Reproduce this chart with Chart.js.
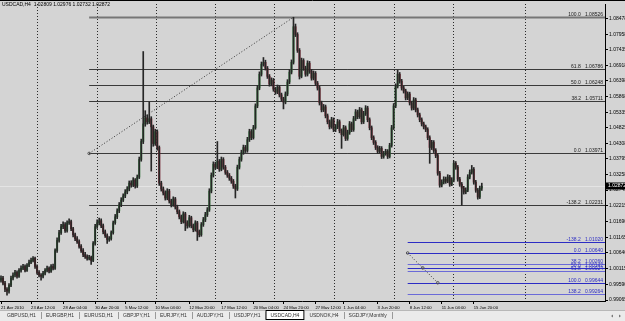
<!DOCTYPE html>
<html>
<head>
<meta charset="utf-8">
<script src="https://cdn.jsdelivr.net/npm/chart.js@4.4.0/dist/chart.umd.min.js"></script>
<style>
  html, body { margin: 0; padding: 0; background: #d4d4d4; }
  canvas { display: block; }
</style>
</head>
<body>
<canvas id="grafico" width="625" height="321"></canvas>
<script>
const simbolo = "USDCAD,H4";

// H4 candles, 21 Apr -> 16 Jun 2010
const opens = [
  0.9973,0.9980,0.9963,0.9943,0.9936,0.9956,0.9980,0.9990,0.9999,0.9986,
  1.0006,1.0013,1.0019,1.0006,1.0023,1.0033,1.0039,1.0046,1.0019,0.9999,
  0.9990,0.9986,0.9996,1.0006,1.0013,1.0003,1.0019,1.0013,1.0072,1.0106,
  1.0132,1.0152,1.0159,1.0139,1.0165,1.0169,1.0145,1.0125,1.0112,1.0102,
  1.0086,1.0072,1.0059,1.0052,1.0046,1.0049,1.0039,1.0096,1.0152,1.0165,
  1.0172,1.0155,1.0135,1.0122,1.0109,1.0112,1.0132,1.0165,1.0185,1.0205,
  1.0225,1.0241,1.0255,1.0268,1.0278,1.0298,1.0291,1.0308,1.0288,1.0318,
  1.0377,1.0437,1.0496,1.0516,1.0503,1.0513,1.0486,1.0430,1.0470,1.0417,
  1.0298,1.0278,1.0265,1.0248,1.0271,1.0238,1.0225,1.0245,1.0218,1.0202,
  1.0185,1.0169,1.0195,1.0165,1.0155,1.0182,1.0155,1.0142,1.0165,1.0135,
  1.0125,1.0159,1.0175,1.0192,1.0208,1.0271,1.0324,1.0361,1.0351,1.0371,
  1.0344,1.0377,1.0351,1.0334,1.0324,1.0314,1.0304,1.0288,1.0278,1.0351,
  1.0377,1.0400,1.0417,1.0407,1.0443,1.0470,1.0450,1.0483,1.0556,1.0616,
  1.0662,1.0695,1.0702,1.0682,1.0655,1.0629,1.0642,1.0612,1.0602,1.0619,
  1.0593,1.0579,1.0569,1.0596,1.0636,1.0669,1.0702,1.0821,1.0795,1.0742,
  1.0655,1.0708,1.0682,1.0662,1.0699,1.0672,1.0649,1.0665,1.0632,1.0616,
  1.0566,1.0543,1.0553,1.0523,1.0503,1.0486,1.0510,1.0477,1.0486,1.0503,
  1.0473,1.0460,1.0483,1.0447,1.0467,1.0496,1.0477,1.0513,1.0536,1.0520,
  1.0543,1.0503,1.0530,1.0549,1.0510,1.0483,1.0450,1.0434,1.0417,1.0404,
  1.0414,1.0387,1.0397,1.0404,1.0387,1.0424,1.0483,1.0556,1.0622,1.0662,
  1.0639,1.0616,1.0606,1.0583,1.0596,1.0566,1.0549,1.0576,1.0543,1.0526,
  1.0510,1.0496,1.0486,1.0477,1.0450,1.0417,1.0434,1.0407,1.0390,1.0331,
  1.0291,1.0301,1.0311,1.0304,1.0318,1.0294,1.0308,1.0364,1.0351,1.0311,
  1.0294,1.0281,1.0268,1.0274,1.0318,1.0334,1.0344,1.0301,1.0274,1.0251,
  1.02809
];
const highs = [
  0.9988,0.9986,0.9969,0.9948,0.9962,0.9987,0.9998,1.0006,1.0004,1.0012,
  1.0021,1.0026,1.0024,1.0029,1.0040,1.0047,1.0052,1.0050,1.0024,1.0005,
  0.9995,1.0003,1.0012,1.0020,1.0018,1.0025,1.0027,1.0078,1.0115,1.0140,
  1.0160,1.0168,1.0166,1.0172,1.0178,1.0174,1.0150,1.0131,1.0119,1.0108,
  1.0092,1.0079,1.0066,1.0058,1.0056,1.0054,1.0102,1.0160,1.0175,1.0181,
  1.0178,1.0161,1.0141,1.0128,1.0119,1.0138,1.0171,1.0193,1.0212,1.0233,
  1.0249,1.0262,1.0276,1.0286,1.0305,1.0306,1.0316,1.0313,1.0325,1.0385,
  1.0445,1.0738,1.0540,1.0526,1.0569,1.0520,1.0492,1.0478,1.0476,1.0422,
  1.0304,1.0285,1.0272,1.0279,1.0277,1.0244,1.0252,1.0250,1.0224,1.0208,
  1.0191,1.0202,1.0200,1.0172,1.0190,1.0187,1.0161,1.0172,1.0170,1.0141,
  1.0166,1.0183,1.0200,1.0216,1.0279,1.0332,1.0369,1.0368,1.0437,1.0377,
  1.0385,1.0383,1.0357,1.0340,1.0330,1.0320,1.0310,1.0294,1.0358,1.0385,
  1.0408,1.0425,1.0424,1.0451,1.0478,1.0477,1.0491,1.0563,1.0624,1.0670,
  1.0703,1.0718,1.0709,1.0688,1.0661,1.0650,1.0648,1.0618,1.0626,1.0624,
  1.0599,1.0585,1.0603,1.0644,1.0677,1.0710,1.08526,1.0830,1.0801,1.0748,
  1.0716,1.0714,1.0689,1.0707,1.0705,1.0678,1.0673,1.0671,1.0638,1.0622,
  1.0572,1.0561,1.0559,1.0529,1.0509,1.0518,1.0516,1.0494,1.0511,1.0509,
  1.0479,1.0491,1.0489,1.0475,1.0504,1.0502,1.0521,1.0544,1.0542,1.0551,
  1.0549,1.0538,1.0557,1.0555,1.0516,1.0489,1.0456,1.0440,1.0423,1.0421,
  1.0420,1.0404,1.0411,1.0410,1.0431,1.0491,1.0564,1.0630,1.0676,1.0668,
  1.0645,1.0622,1.0612,1.0603,1.0602,1.0572,1.0584,1.0582,1.0549,1.0532,
  1.0516,1.0502,1.0492,1.0483,1.0456,1.0441,1.0440,1.0413,1.0396,1.0337,
  1.0309,1.0319,1.0318,1.0326,1.0324,1.0316,1.0372,1.0370,1.0357,1.0317,
  1.0300,1.0287,1.0282,1.0326,1.0342,1.0357,1.0350,1.0307,1.0280,1.0288,
  1.02976
];
const lows = [
  0.9966,0.9957,0.9935,0.9923,0.9930,0.9951,0.9974,0.9984,0.9980,0.9982,
  1.0000,1.0008,1.0001,1.0002,1.0018,1.0028,1.0034,1.0012,0.9993,0.9984,
  0.9973,0.9981,0.9991,1.0001,0.9997,0.9999,1.0007,1.0009,1.0066,1.0100,
  1.0126,1.0145,1.0133,1.0134,1.0160,1.0139,1.0118,1.0105,1.0096,1.0080,
  1.0066,1.0052,1.0046,1.0040,1.0041,1.0026,1.0035,1.0090,1.0146,1.0158,
  1.0149,1.0128,1.0116,1.0096,1.0103,1.0107,1.0127,1.0160,1.0179,1.0199,
  1.0219,1.0236,1.0249,1.0262,1.0272,1.0284,1.0286,1.0281,1.0283,1.0313,
  1.0371,1.0430,1.0488,1.0495,1.0497,1.0338,1.0421,1.0424,1.0408,1.0290,
  1.0271,1.0258,1.0241,1.0242,1.0231,1.0218,1.0220,1.0211,1.0195,1.0178,
  1.0162,1.0164,1.0139,1.0147,1.0150,1.0148,1.0135,1.0137,1.0106,1.0118,
  1.0120,1.0153,1.0169,1.0186,1.0203,1.0265,1.0318,1.0344,1.0346,1.0337,
  1.0339,1.0344,1.0327,1.0317,1.0307,1.0297,1.0280,1.0248,1.0273,1.0345,
  1.0371,1.0394,1.0400,1.0401,1.0437,1.0443,1.0445,1.0478,1.0550,1.0610,
  1.0656,1.0689,1.0676,1.0648,1.0622,1.0623,1.0605,1.0595,1.0597,1.0586,
  1.0572,1.0546,1.0563,1.0590,1.0630,1.0663,1.0696,1.0788,1.0735,1.0646,
  1.0650,1.0675,1.0655,1.0656,1.0665,1.0642,1.0643,1.0625,1.0609,1.0559,
  1.0536,1.0537,1.0516,1.0496,1.0479,1.0481,1.0470,1.0470,1.0480,1.0466,
  1.0414,1.0455,1.0440,1.0441,1.0461,1.0470,1.0471,1.0507,1.0513,1.0514,
  1.0496,1.0497,1.0524,1.0503,1.0476,1.0443,1.0427,1.0410,1.0397,1.0398,
  1.0380,1.0381,1.0391,1.0380,1.0382,1.0418,1.0477,1.0550,1.0616,1.0632,
  1.0609,1.0599,1.0576,1.0577,1.0559,1.0542,1.0543,1.0536,1.0519,1.0503,
  1.0489,1.0479,1.0470,1.0443,1.0364,1.0410,1.0400,1.0383,1.0324,1.0284,
  1.0285,1.0295,1.0297,1.0299,1.0287,1.0289,1.0302,1.0344,1.0304,1.0287,
  1.0224,1.0261,1.0262,1.0269,1.0312,1.0328,1.0294,1.0267,1.0244,1.0246,
  1.02732
];
const closes = [
  0.9980,0.9963,0.9943,0.9936,0.9956,0.9980,0.9990,0.9999,0.9986,1.0006,
  1.0013,1.0019,1.0006,1.0023,1.0033,1.0039,1.0046,1.0019,0.9999,0.9990,
  0.9986,0.9996,1.0006,1.0013,1.0003,1.0019,1.0013,1.0072,1.0106,1.0132,
  1.0152,1.0159,1.0139,1.0165,1.0169,1.0145,1.0125,1.0112,1.0102,1.0086,
  1.0072,1.0059,1.0052,1.0046,1.0049,1.0039,1.0096,1.0152,1.0165,1.0172,
  1.0155,1.0135,1.0122,1.0109,1.0112,1.0132,1.0165,1.0185,1.0205,1.0225,
  1.0241,1.0255,1.0268,1.0278,1.0298,1.0291,1.0308,1.0288,1.0318,1.0377,
  1.0437,1.0496,1.0516,1.0503,1.0513,1.0486,1.0430,1.0470,1.0417,1.0298,
  1.0278,1.0265,1.0248,1.0271,1.0238,1.0225,1.0245,1.0218,1.0202,1.0185,
  1.0169,1.0195,1.0165,1.0155,1.0182,1.0155,1.0142,1.0165,1.0135,1.0125,
  1.0159,1.0175,1.0192,1.0208,1.0271,1.0324,1.0361,1.0351,1.0371,1.0344,
  1.0377,1.0351,1.0334,1.0324,1.0314,1.0304,1.0288,1.0278,1.0351,1.0377,
  1.0400,1.0417,1.0407,1.0443,1.0470,1.0450,1.0483,1.0556,1.0616,1.0662,
  1.0695,1.0702,1.0682,1.0655,1.0629,1.0642,1.0612,1.0602,1.0619,1.0593,
  1.0579,1.0569,1.0596,1.0636,1.0669,1.0702,1.0821,1.0795,1.0742,1.0655,
  1.0708,1.0682,1.0662,1.0699,1.0672,1.0649,1.0665,1.0632,1.0616,1.0566,
  1.0543,1.0553,1.0523,1.0503,1.0486,1.0510,1.0477,1.0486,1.0503,1.0473,
  1.0460,1.0483,1.0447,1.0467,1.0496,1.0477,1.0513,1.0536,1.0520,1.0543,
  1.0503,1.0530,1.0549,1.0510,1.0483,1.0450,1.0434,1.0417,1.0404,1.0414,
  1.0387,1.0397,1.0404,1.0387,1.0424,1.0483,1.0556,1.0622,1.0662,1.0639,
  1.0616,1.0606,1.0583,1.0596,1.0566,1.0549,1.0576,1.0543,1.0526,1.0510,
  1.0496,1.0486,1.0477,1.0450,1.0417,1.0434,1.0407,1.0390,1.0331,1.0291,
  1.0301,1.0311,1.0304,1.0318,1.0294,1.0308,1.0364,1.0351,1.0311,1.0294,
  1.0281,1.0268,1.0274,1.0318,1.0334,1.0344,1.0301,1.0274,1.0251,1.02809,
  1.02872
];

// empty bars kept on the right (chart shift)
const totalSlots = 302;

const dateLabels = ["21 Apr 2010", "23 Apr 12:00", "28 Apr 04:00", "30 Apr 20:00", "5 May 12:00",
  "10 May 04:00", "12 May 20:00", "17 May 12:00", "20 May 04:00", "24 May 20:00", "27 May 12:00",
  "1 Jun 04:00", "3 Jun 20:00", "8 Jun 12:00", "11 Jun 04:00", "15 Jun 20:00"];
const dateLabelBars = [0, 15, 31, 47, 62, 77, 94, 110, 126, 141, 157, 171, 188, 204, 220, 236];

const yTickValues = [1.08478, 1.07958, 1.07435, 1.06918, 1.06398, 1.05868, 1.05335, 1.04825,
  1.04308, 1.03795, 1.03258, 1.02745, 1.02215, 1.01690, 1.01165, 1.00640, 1.00115, 0.99590, 0.99065];

// fibo 1 (black) and fibo 2 (blue)
const fibLevels = [100, 61.8, 50, 38.2, 0, -38.2];
const fibNames = ["100.0", "61.8", "50.0", "38.2", "0.0", "-138.2"];
const fibBars = [44, 146];
const fibPrices = [1.03971, 1.08526];
const fib2Levels = [-38.2, 0, 38.2, 50, 61.8, 100, 138.2];
const fib2Names = ["-138.2", "0.0", "38.2", "50.0", "61.8", "100.0", "138.2"];
const fib2Bars = [203, 218];
const fib2Prices = [1.00640, 0.99644];

const tabNames = ["GBPUSD,H1", "EURGBP,H1", "EURUSD,H1", "GBPJPY,H1", "EURJPY,H1", "AUDJPY,H1",
  "USDJPY,H1", "USDCAD,H4", "USDNOK,H4", "SGDJPY,Monthly"];

const FONT = "Liberation Sans, Arial, sans-serif";
const BG = "#d4d4d4";

const ultimo = closes.length - 1;
const labelAt = (i) => {
  const k = dateLabelBars.indexOf(i);
  return k >= 0 ? dateLabels[k] : "";
};

const ctx = document.getElementById("grafico");

const decor = {
  id: "decor",
  beforeDraw(chart) {
    const c = chart.ctx;
    c.save();
    c.fillStyle = BG;
    c.fillRect(0, 0, chart.width, chart.height);
    c.restore();
  },
  beforeDatasetsDraw(chart) {
    const c = chart.ctx;
    const a = chart.chartArea;
    const xs = chart.scales.x;
    const ys = chart.scales.y;
    c.save();
    // weekly grid
    c.strokeStyle = "#2a2a2a";
    c.lineWidth = 1;
    c.setLineDash([1, 2]);
    [18, 48, 77.5, 107, 136.5, 166, 196, 225.5, 261.5].forEach((b) => {
      const x = Math.round(xs.getPixelForValue(b)) + 0.5;
      c.beginPath();
      c.moveTo(x, a.top);
      c.lineTo(x, a.bottom);
      c.stroke();
    });
    c.setLineDash([]);
    // bid line
    const yb = Math.round(ys.getPixelForValue(closes[ultimo])) + 0.5;
    c.strokeStyle = "#e4e4e4";
    c.beginPath();
    c.moveTo(a.left, yb);
    c.lineTo(a.right, yb);
    c.stroke();
    // fibo levels
    const x1 = xs.getPixelForValue(fibBars[0]);
    fibLevels.forEach((lv) => {
      const p = fibPrices[0] + (fibPrices[1] - fibPrices[0]) * lv / 100;
      const y = Math.round(ys.getPixelForValue(p)) + 0.5;
      c.strokeStyle = lv === 100 ? "#767676" : "#3a3a3a";
      c.lineWidth = lv === 100 ? 2 : 1;
      c.beginPath();
      c.moveTo(x1, y);
      c.lineTo(a.right, y);
      c.stroke();
    });
    const x2 = xs.getPixelForValue(fib2Bars[0]);
    fib2Levels.forEach((lv) => {
      const p = fib2Prices[0] + (fib2Prices[1] - fib2Prices[0]) * lv / 100;
      const y = Math.round(ys.getPixelForValue(p)) + 0.5;
      const soft = lv === 38.2 || lv === 61.8 || lv === 138.2;
      c.strokeStyle = soft ? "#6a6ad8" : "#2c2cc4";
      c.lineWidth = 1;
      c.beginPath();
      c.moveTo(x2, y);
      c.lineTo(a.right, y);
      c.stroke();
    });
    c.restore();
  },
  afterDatasetsDraw(chart) {
    const c = chart.ctx;
    const a = chart.chartArea;
    const xs = chart.scales.x;
    const ys = chart.scales.y;
    c.save();
    c.font = "5px " + FONT;
    c.textAlign = "right";
    c.textBaseline = "bottom";
    fibLevels.forEach((lv, i) => {
      const p = fibPrices[0] + (fibPrices[1] - fibPrices[0]) * lv / 100;
      const y = Math.round(ys.getPixelForValue(p));
      c.fillStyle = "#1a1a1a";
      c.fillText(fibNames[i] + "   " + p.toFixed(5), a.right - 2, y);
    });
    fib2Levels.forEach((lv, i) => {
      const p = fib2Prices[0] + (fib2Prices[1] - fib2Prices[0]) * lv / 100;
      const y = Math.round(ys.getPixelForValue(p));
      c.fillStyle = "#2c2cc4";
      c.fillText(fib2Names[i] + "   " + p.toFixed(5), a.right - 2, y);
    });
    // trend lines of both fibos
    c.setLineDash([1, 2]);
    c.lineWidth = 1;
    c.strokeStyle = "#333";
    const tl = (bars, prices) => {
      const ax = xs.getPixelForValue(bars[0]), ay = ys.getPixelForValue(prices[0]);
      const bx = xs.getPixelForValue(bars[1]), by = ys.getPixelForValue(prices[1]);
      c.beginPath();
      c.moveTo(ax, ay);
      c.lineTo(bx, by);
      c.stroke();
      return [ax, ay, bx, by];
    };
    const t1 = tl(fibBars, fibPrices);
    const t2 = tl(fib2Bars, fib2Prices);
    c.setLineDash([]);
    c.strokeStyle = "#555";
    [[t1[0], t1[1]], [t2[0], t2[1]], [(t2[0] + t2[2]) / 2, (t2[1] + t2[3]) / 2], [t2[2], t2[3]]].forEach(([x, y]) => {
      c.beginPath();
      c.arc(x, y, 1.3, 0, Math.PI * 2);
      c.stroke();
    });
    c.restore();
  },
  afterDraw(chart) {
    const c = chart.ctx;
    const a = chart.chartArea;
    const ys = chart.scales.y;
    c.save();
    // frame top / bottom
    c.strokeStyle = "#000";
    c.lineWidth = 1;
    c.beginPath();
    c.moveTo(0, 0.5);
    c.lineTo(chart.width, 0.5);
    c.moveTo(0, Math.round(a.bottom) + 0.5);
    c.lineTo(a.right, Math.round(a.bottom) + 0.5);
    c.stroke();
    // title
    c.font = "5px " + FONT;
    c.fillStyle = "#000";
    c.textAlign = "left";
    c.textBaseline = "middle";
    c.fillText(simbolo + "  " + opens[ultimo].toFixed(5) + " " + highs[ultimo].toFixed(5) + " " +
      lows[ultimo].toFixed(5) + " " + closes[ultimo].toFixed(5), 2, 5);
    // price box
    const yp = Math.round(ys.getPixelForValue(closes[ultimo]));
    c.fillStyle = "#000";
    c.fillRect(a.right + 1, yp - 3.5, chart.width - a.right - 1, 7);
    c.fillStyle = "#fff";
    c.fillText(closes[ultimo].toFixed(5), a.right + 3, yp);
    // tab bar
    const tb = 310;
    c.fillStyle = "#ebebeb";
    c.fillRect(0, tb, chart.width, chart.height - tb);
    c.strokeStyle = "#b8b8b8";
    c.beginPath();
    c.moveTo(0, tb + 0.5);
    c.lineTo(chart.width, tb + 0.5);
    c.stroke();
    let x = 2;
    tabNames.forEach((n) => {
      const w = c.measureText(n).width + 10;
      if (n === simbolo) {
        c.fillStyle = "#fff";
        c.fillRect(x, tb, w, chart.height - tb - 1);
        c.strokeStyle = "#000";
        c.strokeRect(x + 0.5, tb + 0.5, w - 1, chart.height - tb - 2);
      } else {
        c.strokeStyle = "#9a9a9a";
        c.beginPath();
        c.moveTo(Math.round(x + w) + 0.5, tb + 2);
        c.lineTo(Math.round(x + w) + 0.5, chart.height - 2);
        c.stroke();
      }
      c.fillStyle = "#333";
      c.fillText(n, x + 5, tb + 6);
      x += w;
    });
    // scroll arrows
    c.fillStyle = "#777";
    c.beginPath();
    c.moveTo(611, 316); c.lineTo(613, 314.5); c.lineTo(613, 317.5); c.closePath();
    c.moveTo(621, 316); c.lineTo(619, 314.5); c.lineTo(619, 317.5); c.closePath();
    c.fill();
    c.restore();
  }
};

new Chart(ctx, {
  type: "bar",
  data: {
    labels: Array.from({ length: totalSlots }, (_, i) => i),
    datasets: [
      {
        data: lows.map((l, i) => [l, highs[i]]),
        backgroundColor: "#262626",
        barThickness: 1,
        grouped: false,
        order: 0,
      },
      {
        data: opens.map((o, i) => [o, closes[i]]),
        backgroundColor: opens.map((o, i) => (closes[i] >= o ? "#3a8a45" : "#8c2232")),
        barThickness: 1.4,
        minBarLength: 1,
        grouped: false,
        order: 1,
      },
    ],
  },
  options: {
    responsive: false,
    animation: false,
    events: [],
    layout: { padding: { top: 1, bottom: 12, left: 0, right: 0 } },
    plugins: { legend: { display: false }, tooltip: { enabled: false } },
    scales: {
      x: {
        afterFit: (s) => { s.height = 8; },
        grid: {
          offset: false,
          drawOnChartArea: false,
          tickLength: 3,
          color: (c) => (labelAt(c.index) ? "#000" : "rgba(0,0,0,0)"),
        },
        border: { display: false },
        ticks: {
          autoSkip: false,
          maxRotation: 0,
          minRotation: 0,
          align: "start",
          padding: 1,
          color: "#000",
          font: { family: FONT, size: 4.2 },
          callback: (v, i) => labelAt(i),
        },
      },
      y: {
        position: "right",
        min: 0.99034,
        max: 1.0897,
        afterBuildTicks: (s) => { s.ticks = yTickValues.map((v) => ({ value: v })); },
        afterFit: (s) => { s.width = 20; },
        grid: { drawOnChartArea: false, tickLength: 3, color: "#000" },
        border: { display: true, color: "#000" },
        ticks: {
          padding: 1,
          color: "#000",
          font: { family: FONT, size: 5 },
          callback: (v) => Number(v).toFixed(5),
        },
      },
    },
  },
  plugins: [decor],
});
</script>
</body>
</html>
